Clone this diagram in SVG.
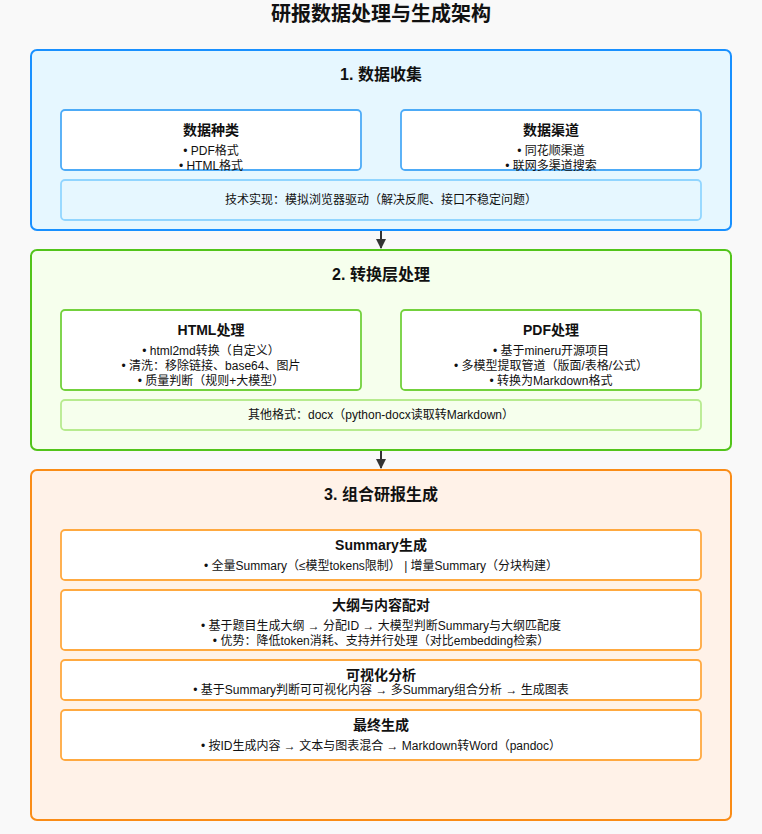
<svg xmlns="http://www.w3.org/2000/svg" width="762" height="834" viewBox="0 0 762 834">
<defs>
<style>
text{font-family:"Liberation Sans","Noto Sans CJK SC",sans-serif;fill:#111;text-anchor:middle}
.t{font-size:20px;font-weight:bold}
.h{font-size:16px;font-weight:bold}
.s{font-size:14px;font-weight:bold}
.b{font-size:12px}
.box{fill:#fff;stroke-width:1.8}
</style>
<marker id="ah" viewBox="0 0 10 10" refX="9" refY="5" markerWidth="5" markerHeight="5" orient="auto" markerUnits="strokeWidth">
<path d="M0,0 L10,5 L0,10 z" fill="#333"/>
</marker>
</defs>
<rect width="762" height="834" fill="#f9f9f9"/>
<text class="t" x="381" y="21">研报数据处理与生成架构</text>

<g id="section1">
<rect x="31" y="50" width="700" height="180" rx="6" fill="#e6f7ff" stroke="#1890ff" stroke-width="2"/>
<text class="h" x="381" y="80">1. 数据收集</text>
</g>
<g id="data-types">
<rect class="box" x="61" y="110" width="300" height="60" rx="4" stroke="#4dabf7"/>
<text class="s" x="211" y="135">数据种类</text>
<text class="b" x="211" y="155">• PDF格式</text>
<text class="b" x="211" y="170">• HTML格式</text>
</g>
<g id="data-channels">
<rect class="box" x="401" y="110" width="300" height="60" rx="4" stroke="#4dabf7"/>
<text class="s" x="551" y="135">数据渠道</text>
<text class="b" x="551" y="155">• 同花顺渠道</text>
<text class="b" x="551" y="170">• 联网多渠道搜索</text>
</g>
<g id="tech">
<rect x="61" y="180" width="640" height="40" rx="4" fill="#e6f7ff" stroke="#91d5ff" stroke-width="1.8"/>
<text class="b" x="381" y="204">技术实现：模拟浏览器驱动（解决反爬、接口不稳定问题）</text>
</g>

<g id="section2">
<rect x="31" y="250" width="700" height="200" rx="6" fill="#f6ffed" stroke="#52c41a" stroke-width="2"/>
<text class="h" x="381" y="280">2. 转换层处理</text>
</g>
<g id="html-proc">
<rect class="box" x="61" y="310" width="300" height="80" rx="4" stroke="#73d13d"/>
<text class="s" x="211" y="335">HTML处理</text>
<text class="b" x="211" y="355">• html2md转换（自定义）</text>
<text class="b" x="211" y="370">• 清洗：移除链接、base64、图片</text>
<text class="b" x="211" y="385">• 质量判断（规则+大模型）</text>
</g>
<g id="pdf-proc">
<rect class="box" x="401" y="310" width="300" height="80" rx="4" stroke="#73d13d"/>
<text class="s" x="551" y="335">PDF处理</text>
<text class="b" x="551" y="355">• 基于mineru开源项目</text>
<text class="b" x="551" y="370">• 多模型提取管道（版面/表格/公式）</text>
<text class="b" x="551" y="385">• 转换为Markdown格式</text>
</g>
<g id="other">
<rect x="61" y="400" width="640" height="30" rx="4" fill="#f6ffed" stroke="#b7eb8f" stroke-width="1.8"/>
<text class="b" x="381" y="419">其他格式：docx（python-docx读取转Markdown）</text>
</g>

<g id="section3">
<rect x="31" y="470" width="700" height="350" rx="6" fill="#fff2e8" stroke="#fa8c16" stroke-width="2"/>
<text class="h" x="381" y="500">3. 组合研报生成</text>
</g>
<g id="summary">
<rect class="box" x="61" y="530" width="640" height="50" rx="4" stroke="#ffa940"/>
<text class="s" x="381" y="550">Summary生成</text>
<text class="b" x="381" y="570">• 全量Summary（≤模型tokens限制） | 增量Summary（分块构建）</text>
</g>
<g id="outline">
<rect class="box" x="61" y="590" width="640" height="60" rx="4" stroke="#ffa940"/>
<text class="s" x="381" y="610">大纲与内容配对</text>
<text class="b" x="381" y="630">• 基于题目生成大纲 → 分配ID → 大模型判断Summary与大纲匹配度</text>
<text class="b" x="381" y="645">• 优势：降低token消耗、支持并行处理（对比embedding检索）</text>
</g>
<g id="visual">
<rect class="box" x="61" y="660" width="640" height="40" rx="4" stroke="#ffa940"/>
<text class="s" x="381" y="680">可视化分析</text>
<text class="b" x="381" y="694">• 基于Summary判断可可视化内容 → 多Summary组合分析 → 生成图表</text>
</g>
<g id="final">
<rect class="box" x="61" y="710" width="640" height="50" rx="4" stroke="#ffa940"/>
<text class="s" x="381" y="730">最终生成</text>
<text class="b" x="381" y="750">• 按ID生成内容 → 文本与图表混合 → Markdown转Word（pandoc）</text>
</g>

<g id="connectors" stroke="#333" stroke-width="2" fill="none">
<line x1="381" y1="231" x2="381" y2="248" marker-end="url(#ah)"/>
<line x1="381" y1="451" x2="381" y2="468" marker-end="url(#ah)"/>
</g>
</svg>
